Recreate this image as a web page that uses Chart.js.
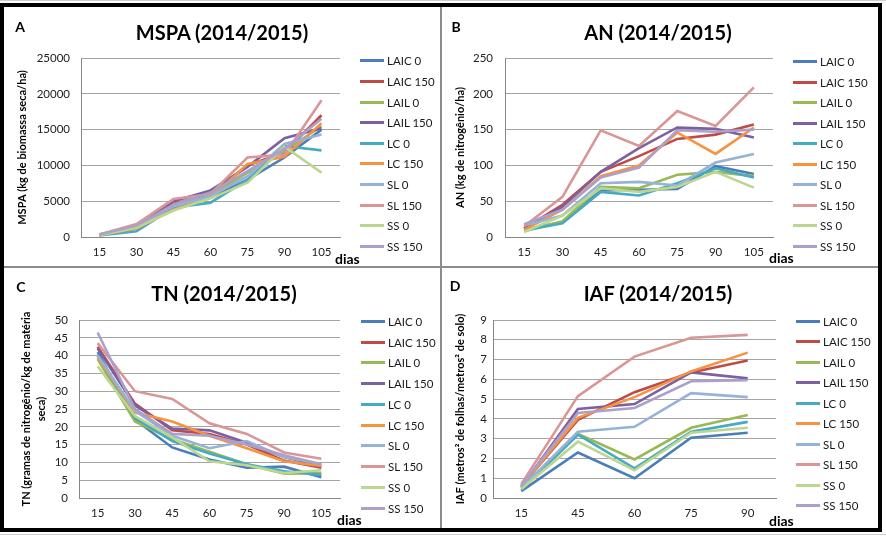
<!DOCTYPE html>
<html>
<head>
<meta charset="utf-8">
<script src="https://cdn.jsdelivr.net/npm/chart.js@4.4.1/dist/chart.umd.min.js"></script>
<style>
  html, body { margin: 0; padding: 0; background: #fff; }
  body { width: 886px; height: 537px; position: relative; overflow: hidden; font-family: Lato, "Open Sans", sans-serif; }
  .abs { position: absolute; }
  canvas { position: absolute; }
  .ttl { position: absolute; font-weight: bold; font-size: 20px; color: #000; transform: translate(-50%, -50%); white-space: nowrap; }
  .letter { position: absolute; font-weight: bold; font-size: 14px; color: #000; transform: translate(-50%, -50%); }
  .dias { position: absolute; font-weight: bold; font-size: 14px; color: #000; transform: translate(0, -50%); }
  .leg { position: absolute; height: 16px; display: flex; align-items: center; font-size: 11.5px; color: #1a1a1a; white-space: nowrap; }
  .leg span.ln { display: inline-block; width: 24px; height: 3px; margin-right: 3px; }
</style>
</head>
<body>
<div class="abs" style="left:0;top:0;width:886px;height:1px;background:#cfcfcf"></div>
<div class="abs" style="left:0;top:534px;width:886px;height:1px;background:#cfcfcf"></div>
<div class="abs" style="left:0;top:3px;width:882px;height:529px;border:4px solid #000;box-sizing:border-box"></div>
<div class="abs" style="left:440px;top:7px;width:2px;height:521px;background:#8c8c8c"></div>
<div class="abs" style="left:4px;top:266px;width:874px;height:2px;background:#8c8c8c"></div>

<canvas id="cA" width="436" height="259" style="left:4px;top:7px"></canvas>
<canvas id="cB" width="435" height="259" style="left:442px;top:7px"></canvas>
<canvas id="cC" width="436" height="259" style="left:4px;top:268px"></canvas>
<canvas id="cD" width="435" height="259" style="left:442px;top:268px"></canvas>

<div class="letter" style="left:20px;top:26px">A</div>
<div class="letter" style="left:456px;top:26px">B</div>
<div class="letter" style="left:21px;top:286px">C</div>
<div class="letter" style="left:455px;top:285px">D</div>

<div class="ttl" style="left:222px;top:32px">MSPA (2014/2015)</div>
<div class="ttl" style="left:658px;top:32px">AN (2014/2015)</div>
<div class="ttl" style="left:224px;top:293px">TN (2014/2015)</div>
<div class="ttl" style="left:658px;top:293px">IAF (2014/2015)</div>

<div class="dias" style="left:335px;top:258px">dias</div>
<div class="dias" style="left:769px;top:257px">dias</div>
<div class="dias" style="left:337px;top:519px">dias</div>
<div class="dias" style="left:769px;top:520px">dias</div>

<div id="legends"></div>

<script>
// ---------- DATA ----------
const days7 = ['15', '30', '45', '60', '75', '90', '105'];
const daysIAF = ['15', '45', '60', '75', '90'];
const seriesNames = ['LAIC 0', 'LAIC 150', 'LAIL 0', 'LAIL 150', 'LC 0', 'LC 150', 'SL 0', 'SL 150', 'SS 0', 'SS 150'];
const seriesColors = ['#4A7EBB', '#BE4B48', '#98B954', '#7D60A0', '#46AAC5', '#F69240', '#95B3D7', '#D99694', '#BBD68F', '#ACA0CB'];

// MSPA (kg de biomassa seca/ha), one row per series
const mspaValues = [
  [250, 1200, 4000, 5500, 8000, 11100, 15000],
  [300, 1500, 4600, 6000, 10000, 11800, 17000],
  [250, 1300, 4200, 5800, 9000, 12000, 15500],
  [350, 1500, 5000, 6500, 9800, 13800, 15200],
  [200, 800, 4100, 4800, 8000, 12700, 12100],
  [300, 1200, 3800, 5500, 10200, 11200, 15900],
  [300, 1400, 4300, 5700, 8500, 13000, 14300],
  [350, 1800, 5300, 6000, 11100, 11500, 19100],
  [250, 1300, 3700, 5400, 7600, 12600, 9000],
  [350, 1600, 4500, 6200, 9200, 12300, 16500]
];
// AN (kg de nitrogênio/ha)
const anValues = [
  [10, 21, 65, 66, 67, 99, 88],
  [12, 45, 91, 113, 137, 143, 157],
  [8, 22, 70, 68, 87, 91, 85],
  [12, 42, 91, 124, 153, 151, 139],
  [9, 19, 63, 58, 75, 96, 83],
  [10, 38, 85, 100, 146, 116, 153],
  [16, 30, 75, 77, 72, 104, 116],
  [15, 56, 149, 127, 176, 155, 209],
  [7, 30, 68, 63, 70, 91, 69],
  [18, 38, 83, 97, 149, 147, 150]
];
// TN (gramas de nitrogênio/kg de matéria seca)
const tnValues = [
  [41, 22, 14.2, 10.8, 8.5, 8.8, 5.8],
  [42.5, 26.5, 19, 18, 15, 10.5, 8.5],
  [39, 21.5, 16.5, 13, 9.5, 6.8, 7],
  [42, 26, 19.5, 19, 15.5, 11.5, 9],
  [40, 22.5, 16, 12.5, 9.5, 7.5, 6.5],
  [39.5, 24, 21.5, 17.5, 14, 10.3, 9],
  [40, 24.5, 17.5, 14, 16, 11.5, 9.5],
  [43.5, 30, 27.8, 21, 18, 12.8, 11],
  [37, 23, 17, 10.3, 9.2, 7, 7.8],
  [46.5, 25, 18, 17.5, 15, 12, 9.5]
];
// IAF (metros² de folhas/metros² de solo)
const iafValues = [
  [0.35, 2.3, 1.0, 3.05, 3.3],
  [0.6, 3.95, 5.35, 6.35, 6.95],
  [0.5, 3.25, 1.95, 3.55, 4.2],
  [0.55, 4.5, 4.75, 6.35, 6.05],
  [0.4, 3.2, 1.5, 3.35, 3.85],
  [0.6, 4.05, 5.1, 6.4, 7.35],
  [0.5, 3.35, 3.6, 5.3, 5.1],
  [0.7, 5.15, 7.15, 8.1, 8.25],
  [0.45, 2.85, 1.4, 3.3, 3.55],
  [0.6, 4.3, 4.55, 5.9, 5.95]
];
const yTitles = {
  A: 'MSPA (kg de biomassa seca/ha)',
  B: 'AN (kg de nitrogênio/ha)',
  C: ['TN (gramas de nitrogênio/kg de matéria', 'seca)'],
  D: 'IAF (metros² de folhas/metros² de solo)'
};

// ---------- CHARTS ----------
const FONT = 'Lato';
function makePanel(id, labels, values, yMax, yStep, yTitle, lay) {
  const datasets = values.map((row, i) => ({
    label: seriesNames[i],
    data: row,
    borderColor: seriesColors[i],
    backgroundColor: seriesColors[i],
    borderWidth: 2.6,
    pointRadius: 0,
    tension: 0,
    fill: false,
    order: values.length - i
  }));
  new Chart(document.getElementById(id), {
    type: 'line',
    data: { labels, datasets },
    options: {
      responsive: false,
      animation: false,
      devicePixelRatio: 1,
      layout: { padding: { left: 0, top: lay.top, right: lay.right, bottom: lay.bottom } },
      plugins: { legend: { display: false }, title: { display: false }, tooltip: { enabled: false } },
      scales: {
        x: {
          offset: true,
          grid: { display: false, drawTicks: false },
          border: { display: true, color: '#868686', width: 1 },
          ticks: { color: '#222', font: { family: FONT, size: 11.5 }, padding: 8, maxRotation: 0, autoSkip: false },
          afterFit: s => { s.height = 22; }
        },
        y: {
          min: 0, max: yMax,
          grid: { color: '#a5a5a5', drawTicks: false, lineWidth: 1 },
          border: { display: true, color: '#868686', width: 1 },
          ticks: { stepSize: yStep, color: '#222', font: { family: FONT, size: 11.5 }, padding: lay.tickPad, callback: v => String(v) },
          title: { display: true, text: yTitle, color: '#000', font: { family: FONT, size: 11, weight: 'bold', lineHeight: 1.36 }, padding: { top: lay.titlePad, bottom: 0 } },
          afterFit: s => { s.width = lay.yWidth; }
        }
      }
    }
  });
}

makePanel('cA', days7, mspaValues, 25000, 5000, yTitles.A, { top: 51, right: 100, bottom: 7, yWidth: 77, tickPad: 11, titlePad: 11 });
makePanel('cB', days7, anValues, 250, 50, yTitles.B, { top: 51, right: 104, bottom: 7, yWidth: 63, tickPad: 12, titlePad: 11 });
makePanel('cC', days7, tnValues, 50, 5, yTitles.C, { top: 52, right: 100, bottom: 7, yWidth: 75, tickPad: 11, titlePad: 15 });
makePanel('cD', daysIAF, iafValues, 9, 1, yTitles.D, { top: 52, right: 101, bottom: 7, yWidth: 51, tickPad: 6, titlePad: 11 });

// ---------- LEGENDS (HTML, from series arrays) ----------
const legendSpots = [
  { x: 360, y0: 60.7, dy: 20.65 },
  { x: 793, y0: 61.7, dy: 20.5 },
  { x: 361, y0: 321.3, dy: 20.75 },
  { x: 796, y0: 321.3, dy: 20.5 }
];
const legHost = document.getElementById('legends');
legendSpots.forEach(sp => {
  seriesNames.forEach((name, i) => {
    const d = document.createElement('div');
    d.className = 'leg';
    d.style.left = sp.x + 'px';
    d.style.top = (sp.y0 + i * sp.dy - 8) + 'px';
    const ln = document.createElement('span');
    ln.className = 'ln';
    ln.style.background = seriesColors[i];
    d.appendChild(ln);
    d.appendChild(document.createTextNode(name));
    legHost.appendChild(d);
  });
});
</script>
</body>
</html>
